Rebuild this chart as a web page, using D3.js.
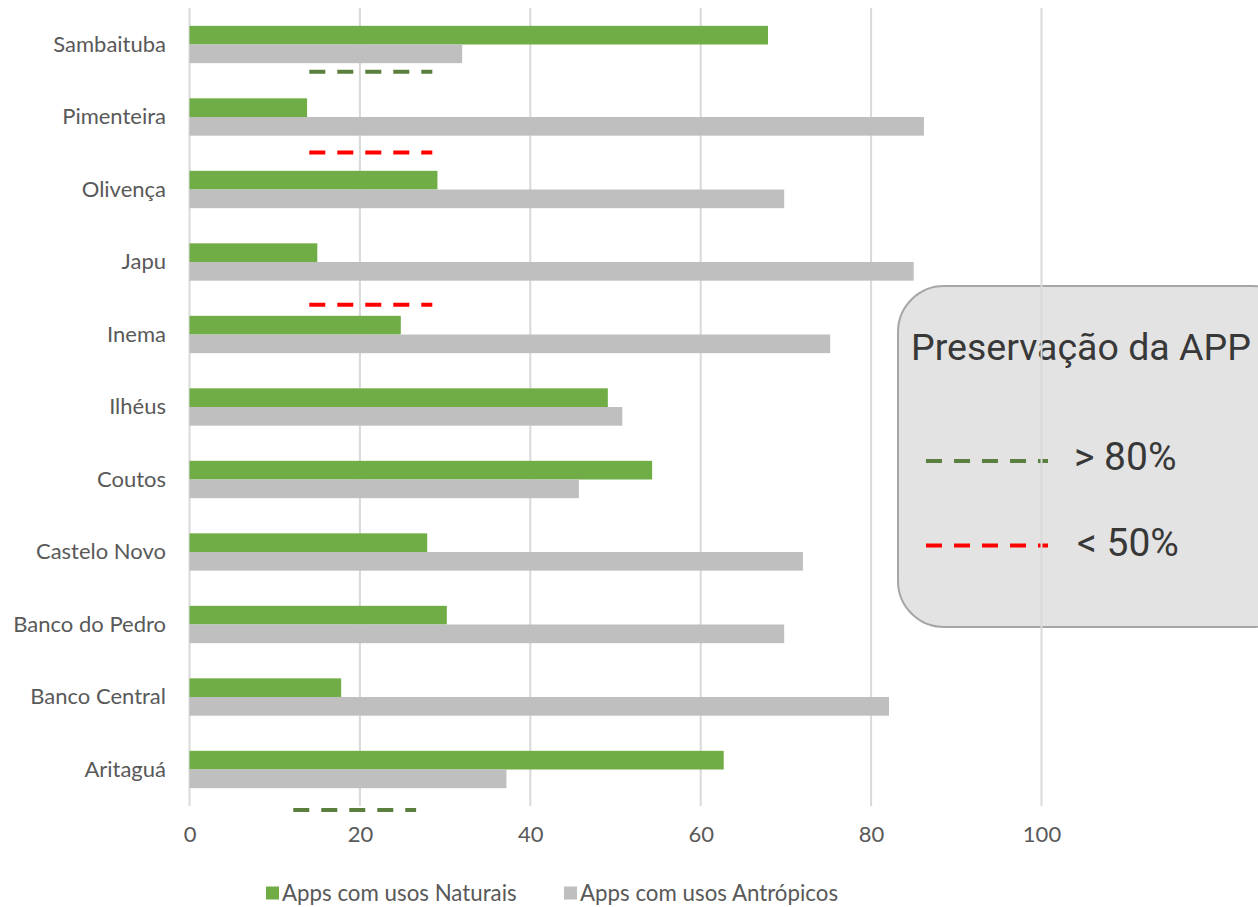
<!DOCTYPE html>
<html>
<head>
<meta charset="utf-8">
<script src="https://cdn.jsdelivr.net/npm/d3@7"></script>
<style>
  html, body { margin: 0; padding: 0; background: #ffffff; }
  svg { display: block; }
</style>
</head>
<body>
<svg id="chart" width="1258" height="907"></svg>
<script>
// Localidades (top to bottom)
const categories = ["Sambaituba", "Pimenteira", "Olivença", "Japu", "Inema", "Ilhéus",
  "Coutos", "Castelo Novo", "Banco do Pedro", "Banco Central", "Aritaguá"];

// Percent of APP area per class of use
const naturais =   [67.9, 13.8, 29.1, 15.0, 24.8, 49.1, 54.3, 27.9, 30.2, 17.8, 62.7];
const antropicos = [32.0, 86.2, 69.8, 85.0, 75.2, 50.8, 45.7, 72.0, 69.8, 82.1, 37.2];

const seriesNames = ["Apps com usos Naturais", "Apps com usos Antrópicos"];
const seriesColors = ["#70ad47", "#bfbfbf"];

const xTicks = [0, 20, 40, 60, 80, 100];

// Preservation markers: row position (fractional row index), start/end in axis units, class
const markerRow =   [0.375, 1.49, 3.59, 10.56];
const markerFrom =  [14.06, 14.06, 14.06, 12.18];
const markerTo =    [28.5, 28.5, 28.5, 26.6];
const markerClass = ["high", "low", "low", "high"];

const legendTitle = "Preservação da APP";
const legendLabels = ["> 80%", "< 50%"];
const legendClasses = ["high", "low"];
const markerColors = { high: "#5b7f3e", low: "#ff0000" };

const svg = d3.select("#chart");
const labelFont = "Lato, 'Open Sans', sans-serif";
const textColor = "#595959";

const x = d3.scaleLinear().domain([0, 100]).range([189.5, 1041.5]);
const y = d3.scaleBand().domain(categories).range([8.25, 805.75])
  .paddingInner(0.485).paddingOuter(0.2425);
const sub = d3.scaleBand().domain([0, 1]).range([0, y.bandwidth()]);
const rowPos = d3.scaleLinear().domain([0, categories.length - 1])
  .range([y(categories[0]) + y.bandwidth() / 2,
          y(categories[categories.length - 1]) + y.bandwidth() / 2]);

// Legend box for preservation classes (drawn beneath the grid)
const box = svg.append("g");
box.append("rect")
  .attr("x", 898).attr("y", 286).attr("width", 400).attr("height", 341)
  .attr("rx", 46).attr("ry", 46)
  .attr("fill", "#e3e3e3").attr("stroke", "#a6a6a6").attr("stroke-width", 2);

// Gridlines
svg.append("g").selectAll("line").data(xTicks).join("line")
  .attr("x1", d => x(d)).attr("x2", d => x(d))
  .attr("y1", 8).attr("y2", 806)
  .attr("stroke", "#d9d9d9").attr("stroke-width", 2);

// Box content
box.append("text")
  .attr("x", 911).attr("y", 360)
  .attr("font-family", "Roboto, sans-serif").attr("font-size", 37.5)
  .attr("fill", "#383838")
  .text(legendTitle);

const legRows = box.selectAll("g.leg").data(legendLabels).join("g").attr("class", "leg")
  .attr("transform", (d, i) => `translate(0, ${[461, 545.5][i]})`);
legRows.append("line")
  .attr("x1", 926).attr("x2", 1048).attr("y1", 0).attr("y2", 0)
  .attr("stroke", (d, i) => markerColors[legendClasses[i]])
  .attr("stroke-width", 4).attr("stroke-dasharray", "16 12");
legRows.append("text")
  .attr("x", (d, i) => [1074, 1077][i]).attr("y", (d, i) => [9, 10.5][i])
  .attr("font-family", "Roboto, sans-serif").attr("font-size", 39)
  .attr("fill", "#383838")
  .text(d => d);

// Bars
const groups = svg.append("g").selectAll("g").data(categories).join("g")
  .attr("transform", d => `translate(0, ${y(d)})`);
[naturais, antropicos].forEach((vals, s) => {
  groups.append("rect")
    .attr("x", x(0))
    .attr("y", sub(s))
    .attr("width", (d, i) => x(vals[i]) - x(0))
    .attr("height", sub.bandwidth())
    .attr("fill", seriesColors[s]);
});

// Preservation markers
svg.append("g").selectAll("line").data(markerRow).join("line")
  .attr("x1", (d, i) => x(markerFrom[i]))
  .attr("x2", (d, i) => x(markerTo[i]))
  .attr("y1", d => rowPos(d)).attr("y2", d => rowPos(d))
  .attr("stroke", (d, i) => markerColors[markerClass[i]])
  .attr("stroke-width", 4).attr("stroke-dasharray", "16 12");

// Category axis labels
const yAxis = svg.append("g").attr("transform", "translate(166,0)")
  .call(d3.axisLeft(y).tickSize(0).tickPadding(0));
yAxis.select(".domain").remove();
yAxis.selectAll("text")
  .attr("font-family", labelFont).attr("font-size", 22).attr("fill", textColor);

// Value axis labels
const xAxis = svg.append("g").attr("transform", "translate(0,826)")
  .call(d3.axisBottom(x).tickValues(xTicks).tickSize(0).tickPadding(0));
xAxis.select(".domain").remove();
xAxis.selectAll("text")
  .attr("font-family", labelFont).attr("font-size", 22).attr("fill", textColor);

// Series legend
const legX = [266, 564];
const sl = svg.append("g").selectAll("g").data(seriesNames).join("g")
  .attr("transform", (d, i) => `translate(${legX[i]}, 893)`);
sl.append("rect").attr("x", 0).attr("y", -6.5).attr("width", 13).attr("height", 13)
  .attr("fill", (d, i) => seriesColors[i]);
sl.append("text").attr("x", 16).attr("y", 0).attr("dy", "0.35em")
  .attr("font-family", labelFont).attr("font-size", 22.3).attr("fill", textColor)
  .text(d => d);
</script>
</body>
</html>
